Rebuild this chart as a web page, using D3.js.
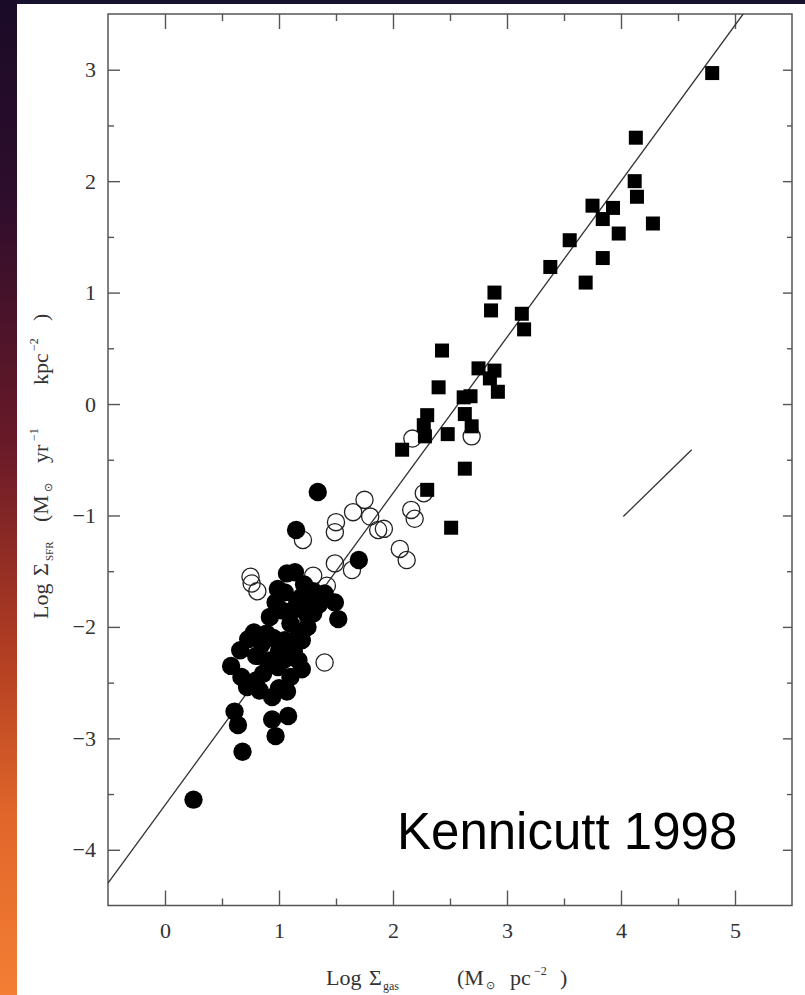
<!DOCTYPE html>
<html>
<head>
<meta charset="utf-8">
<script src="https://cdn.jsdelivr.net/npm/d3@7"></script>
<style>
  html, body { margin: 0; padding: 0; background: #16122e; }
  svg { display: block; }
</style>
</head>
<body>
<script>
// Starburst galaxies: [log Σgas, log ΣSFR]  (filled squares)
const starbursts = [
  [4.80, 2.97], [4.13, 2.39], [4.12, 2.00], [4.14, 1.86], [3.75, 1.78], [3.93, 1.76],
  [3.84, 1.66], [4.28, 1.62], [3.98, 1.53], [3.55, 1.47], [3.84, 1.31], [3.38, 1.23],
  [3.69, 1.09], [2.89, 1.00], [2.86, 0.84], [3.13, 0.81], [3.15, 0.67], [2.43, 0.48],
  [2.75, 0.32], [2.89, 0.30], [2.85, 0.23], [2.40, 0.15], [2.92, 0.11], [2.62, 0.06],
  [2.68, 0.07], [2.30, -0.10], [2.63, -0.09], [2.27, -0.19], [2.69, -0.20], [2.28, -0.29],
  [2.48, -0.27], [2.08, -0.41], [2.63, -0.58], [2.30, -0.77], [2.51, -1.11]
];

// Circumnuclear regions of normal disks (open circles)
const nuclearRegions = [
  [2.17, -0.31], [2.69, -0.29], [2.27, -0.80], [2.16, -0.95], [2.19, -1.03], [2.06, -1.30],
  [2.12, -1.40], [1.87, -1.13], [1.92, -1.12], [1.75, -0.86], [1.65, -0.97], [1.80, -1.01],
  [1.50, -1.06], [1.49, -1.15], [1.21, -1.22], [1.49, -1.43], [1.64, -1.49], [1.30, -1.54],
  [0.75, -1.55], [0.76, -1.61], [0.81, -1.68], [1.40, -2.32], [1.42, -1.63]
];

// Normal spiral disks, disk-averaged (filled circles)
const spiralDisks = [
  [1.34, -0.79], [1.15, -1.13], [1.70, -1.40], [1.07, -1.52], [1.14, -1.51], [0.99, -1.66],
  [1.05, -1.69], [1.20, -1.73], [1.16, -1.76], [1.40, -1.70], [1.49, -1.78], [1.52, -1.93],
  [1.24, -1.88], [1.30, -1.88], [0.92, -1.91], [1.02, -1.85], [1.10, -1.97], [1.17, -2.08],
  [1.20, -2.12], [0.89, -2.06], [0.73, -2.11], [1.00, -2.22], [0.66, -2.21], [0.80, -2.26],
  [1.17, -2.30], [0.58, -2.35], [1.05, -2.29], [0.67, -2.45], [0.86, -2.42], [0.99, -2.36],
  [1.10, -2.45], [0.72, -2.54], [0.83, -2.57], [0.94, -2.63], [0.61, -2.76], [0.64, -2.88],
  [0.94, -2.83], [1.08, -2.80], [0.97, -2.98], [0.68, -3.12], [0.25, -3.55],
  [1.13, -2.22], [1.25, -2.00], [1.00, -2.55], [1.12, -1.85], [1.35, -1.80],
  [0.85, -2.15], [0.95, -2.10], [0.90, -2.30], [0.80, -2.48], [1.20, -2.38], [1.05, -2.12],
  [1.30, -1.75], [0.97, -1.78], [1.22, -1.62], [1.30, -1.68], [0.78, -2.05], [1.07, -2.58]
];

// Axis ticks
const xMajor = [0, 1, 2, 3, 4, 5];
const xMinor = [0.5, 1.5, 2.5, 3.5, 4.5];
const yMajor = [-4, -3, -2, -1, 0, 1, 2, 3];
const yMinor = [-3.5, -2.5, -1.5, -0.5, 0.5, 1.5, 2.5];
const xDomain = [-0.5, 5.5];
const yDomain = [-4.5, 3.5];

// Schmidt law fit and a slope-1 reference segment
const fitSlope = 1.4;
const fitIntercept = -3.6;
const slopeOneSegment = [[4.02, -1.01], [4.62, -0.41]];
const credit = "Kennicutt 1998";

const W = 805, H = 995;
const box = { left: 108, right: 792, top: 14, bottom: 905.5 };
const serif = '"Liberation Serif", "Times New Roman", serif';
const sans = '"Liberation Sans", Arial, Helvetica, sans-serif';
const ink = "#333";

const svg = d3.select("body").append("svg")
  .attr("width", W).attr("height", H)
  .attr("viewBox", `0 0 ${W} ${H}`);

// Backdrop: dark band on top, warm gradient strip on the left, white page
const defs = svg.append("defs");
const grad = defs.append("linearGradient").attr("id", "edge")
  .attr("x1", 0).attr("y1", 0).attr("x2", 0).attr("y2", 1);
[["0", "#1a0b28"], ["0.2", "#2e0d2c"], ["0.45", "#6a1a28"], ["0.65", "#b03c22"],
 ["0.82", "#e0662a"], ["1", "#f47e34"]].forEach(([o, c]) =>
  grad.append("stop").attr("offset", o).attr("stop-color", c));

svg.append("rect").attr("width", W).attr("height", H).attr("fill", "#16122e");
svg.append("rect").attr("x", 0).attr("y", 0).attr("width", 17).attr("height", H).attr("fill", "url(#edge)");
svg.append("rect").attr("x", 17).attr("y", 4).attr("width", W - 17).attr("height", H - 4).attr("fill", "#ffffff");

defs.append("clipPath").attr("id", "plot")
  .append("rect").attr("x", box.left).attr("y", box.top)
  .attr("width", box.right - box.left).attr("height", box.bottom - box.top);

const x = d3.scaleLinear().domain(xDomain).range([box.left, box.right]);
const y = d3.scaleLinear().domain(yDomain).range([box.bottom, box.top]);

// Axes: ticks point inward; majors and minors on every side
function drawAxis(gen, tx, ty) {
  const g = svg.append("g").attr("transform", `translate(${tx},${ty})`).call(gen);
  g.select(".domain").remove();
  g.selectAll(".tick line").attr("stroke", "#555").attr("stroke-width", 1.4);
  g.selectAll(".tick text").attr("font-family", serif).attr("font-size", 22).attr("fill", ink);
  return g;
}
drawAxis(d3.axisBottom(x).tickValues(xMajor).tickSize(-15).tickPadding(17).tickFormat(d3.format("d")), 0, box.bottom);
drawAxis(d3.axisBottom(x).tickValues(xMinor).tickSize(-7).tickFormat(""), 0, box.bottom);
drawAxis(d3.axisTop(x).tickValues(xMajor).tickSize(-15).tickFormat(""), 0, box.top);
drawAxis(d3.axisTop(x).tickValues(xMinor).tickSize(-7).tickFormat(""), 0, box.top);
drawAxis(d3.axisLeft(y).tickValues(yMajor).tickSize(-12).tickPadding(12).tickFormat(d3.format("d")), box.left, 0);
drawAxis(d3.axisLeft(y).tickValues(yMinor).tickSize(-6).tickFormat(""), box.left, 0);
drawAxis(d3.axisRight(y).tickValues(yMajor).tickSize(-9).tickFormat(""), box.right, 0);
drawAxis(d3.axisRight(y).tickValues(yMinor).tickSize(-5).tickFormat(""), box.right, 0);

svg.append("rect")
  .attr("x", box.left).attr("y", box.top)
  .attr("width", box.right - box.left).attr("height", box.bottom - box.top)
  .attr("fill", "none").attr("stroke", "#555").attr("stroke-width", 1.5);

const plot = svg.append("g").attr("clip-path", "url(#plot)");

// Fitted relation, drawn across the panel
const fitEnds = [xDomain[0], (yDomain[1] - fitIntercept) / fitSlope]
  .map(v => [v, fitSlope * v + fitIntercept]);
const line = d3.line().x(d => x(d[0])).y(d => y(d[1]));
plot.append("path").attr("d", line(fitEnds))
  .attr("fill", "none").attr("stroke", "#333").attr("stroke-width", 1.3);
plot.append("path").attr("d", line(slopeOneSegment))
  .attr("fill", "none").attr("stroke", "#333").attr("stroke-width", 1.3);

// Data points
plot.append("g").selectAll("circle").data(nuclearRegions).join("circle")
  .attr("cx", d => x(d[0])).attr("cy", d => y(d[1])).attr("r", 8.6)
  .attr("fill", "none").attr("stroke", "#222").attr("stroke-width", 1.3);

plot.append("g").selectAll("circle").data(spiralDisks).join("circle")
  .attr("cx", d => x(d[0])).attr("cy", d => y(d[1])).attr("r", 9.2)
  .attr("fill", "#000");

const sq = 14;
plot.append("g").selectAll("rect").data(starbursts).join("rect")
  .attr("x", d => x(d[0]) - sq / 2).attr("y", d => y(d[1]) - sq / 2)
  .attr("width", sq).attr("height", sq).attr("fill", "#000");

// Credit line
svg.append("text").attr("x", 397).attr("y", 849)
  .attr("font-family", sans).attr("font-size", 51).attr("fill", "#000")
  .text(credit);

// Axis titles built from positioned pieces (subscripts / superscripts)
function title(g, pieces) {
  const t = g.append("text").attr("font-family", serif).attr("fill", ink);
  pieces.forEach(p => {
    t.append("tspan").attr("x", p.x).attr("y", p.y || 0)
      .attr("font-size", p.s || 22).text(p.t);
  });
}

const xt = svg.append("g").attr("transform", "translate(326,985)");
title(xt, [
  { t: "Log", x: 0 },
  { t: "Σ", x: 43 },
  { t: "gas", x: 57, y: 5, s: 12 },
  { t: "(M", x: 131 },
  { t: "⊙", x: 160, y: 4, s: 11 },
  { t: "pc", x: 184 },
  { t: "−2", x: 208, y: -10, s: 12 },
  { t: ")", x: 234 }
]);

const yt = svg.append("g").attr("transform", "translate(48,619) rotate(-90)");
title(yt, [
  { t: "Log", x: 0 },
  { t: "Σ", x: 43 },
  { t: "SFR", x: 58, y: 5, s: 11 },
  { t: "(M", x: 97 },
  { t: "⊙", x: 127, y: 4, s: 11 },
  { t: "yr", x: 156 },
  { t: "−1", x: 178, y: -10, s: 12 },
  { t: "kpc", x: 234 },
  { t: "−2", x: 268, y: -10, s: 12 },
  { t: ")", x: 298 }
]);
</script>
</body>
</html>
